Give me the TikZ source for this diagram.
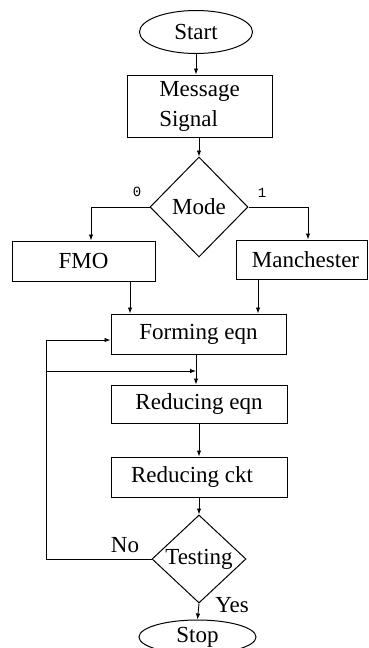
\documentclass[tikz,border=0pt]{standalone}
\usepackage{fontspec}
\setmainfont{Liberation Serif}
\newfontfamily\monofnt{Liberation Mono}
\usetikzlibrary{shapes.geometric,arrows.meta}
\begin{document}
\begin{tikzpicture}[x=1pt,y=-1pt,
  every node/.style={font=\fontsize{23}{30}\selectfont},
  term/.style={draw,line width=1pt,ellipse,inner sep=0pt},
  procbox/.style={draw,line width=1pt,rectangle,inner sep=0pt},
  decide/.style={draw,line width=1pt,diamond,inner sep=0pt,aspect=1},
  arr/.style={line width=0.9pt,-{Latex[length=6pt,width=4.5pt]}},
  lbl/.style={inner sep=0pt},
  digit/.style={inner sep=0pt,font=\monofnt\fontsize{14}{16}\selectfont}]
\useasboundingbox (0,0) rectangle (368,648);
\node[term,minimum width=113pt,minimum height=43pt] (start) at (196,32) {Start};
\node[procbox,minimum width=145pt,minimum height=62pt,align=left] (msg) at (199.5,106) {Message\\Signal};
\node[decide,minimum width=98pt,minimum height=100pt] (mode) at (199,207) {Mode};
\node[procbox,minimum width=143pt,minimum height=40pt] (fmo) at (83.5,261) {FMO};
\node[procbox,minimum width=131pt,minimum height=39pt] (man) at (301.5,259.5) {\hspace*{8pt}Manchester};
\node[procbox,minimum width=175pt,minimum height=40pt] (form) at (198.5,334) {Forming eqn};
\node[procbox,minimum width=176pt,minimum height=38pt] (redeq) at (199,404) {Reducing eqn};
\node[procbox,minimum width=176pt,minimum height=40pt] (redckt) at (199,477) {Reducing ckt\hspace*{14pt}};
\node[decide,minimum width=94pt,minimum height=88pt] (test) at (199,559) {Testing};
\node[term,minimum width=117pt,minimum height=34pt] (stop) at (197.5,637) {Stop};
\node[digit] (l0) at (137,192) {0};
\node[digit] (l1) at (262,193) {1};
\node[lbl] (lno) at (125,545) {No};
\node[lbl] (lyes) at (232,605) {Yes};
\coordinate (loopc) at (46,340);
\coordinate (loopm) at (46,371);
\coordinate (mid) at (196,371);
\draw[arr] (start.south) -- (start.south |- msg.north);
\draw[arr] (msg.south -| mode.north) -- (mode.north);
\draw[arr] (mode.west) -| ([xshift=7.5pt]fmo.north);
\draw[arr] (mode.east) -| ([xshift=6.5pt]man.north);
\draw[arr] ([xshift=46.5pt]fmo.south) -- ([xshift=46.5pt]fmo.south |- form.north);
\draw[arr] ([xshift=-43.5pt]man.south) -- ([xshift=-43.5pt]man.south |- form.north);
\draw[arr] ([xshift=-2.5pt]form.south) -- ([xshift=-2.5pt]form.south |- redeq.north);
\draw[arr] (loopm) -- (mid);
\draw[arr] (redeq.south) -- (redckt.north);
\draw[arr] (redckt.south) -- (test.north);
\draw[arr] (test.west) -| (loopc) -- ([yshift=-6pt]form.west);
\draw[arr] (test.south) -- (stop.north);
\end{tikzpicture}
\end{document}
